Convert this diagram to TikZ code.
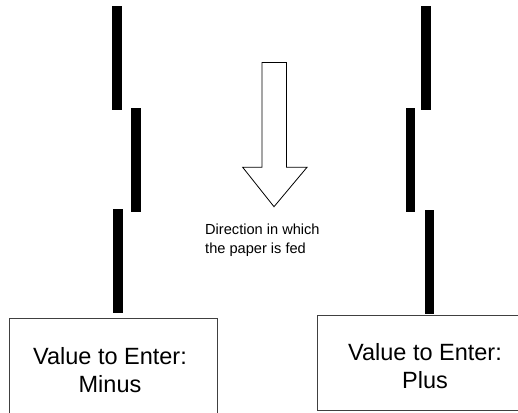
\documentclass[tikz,border=0pt]{standalone}
\usepackage{fontspec}
\setmainfont{Liberation Sans}
\begin{document}
\begin{tikzpicture}[x=1pt,y=-1pt,
  bar/.style={fill=black,draw=none},
  valbox/.style={draw=black!75,line width=0.9pt,fill=none},
  valtext/.style={font=\fontsize{23.5}{27.5}\selectfont,align=center,inner sep=0pt},
  note/.style={font=\fontsize{14.6}{19}\selectfont,align=left,inner sep=0pt,anchor=north west},
  feedarrow/.style={draw=black,line width=0.8pt,fill=white,line join=miter}]
\useasboundingbox (0,0) rectangle (518,412);
\clip (0,0) rectangle (518,412);
% left bars
\fill[bar] (112,6) rectangle (122,110);
\fill[bar] (131,108) rectangle (141,212);
\fill[bar] (113,209) rectangle (122.5,313);
% right bars
\fill[bar] (421,6) rectangle (430.5,110);
\fill[bar] (405.5,108) rectangle (415,212);
\fill[bar] (425,210) rectangle (434,314);
% feed arrow
\draw[feedarrow] (262,62.5) -- (286.5,62.5) -- (286.5,167.3) -- (307,167.3) -- (274,206.7)
  -- (242.7,167.3) -- (262,167.3) -- cycle;
\node[note] (feed) at (205,224) {Direction in which\\the paper is fed};
% boxes
\draw[valbox] (9.5,318) rectangle (217,430);
\node[valtext] (minus) at (110,370) {Value to Enter:\\Minus};
\draw[valbox] (317.5,315.7) rectangle (540,410);
\node[valtext] (plus) at (425,366) {Value to Enter:\\Plus};
\end{tikzpicture}
\end{document}
